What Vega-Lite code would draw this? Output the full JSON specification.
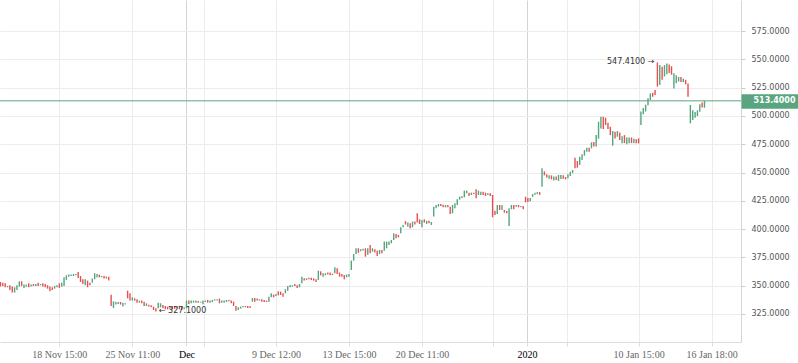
{
"$schema": "https://vega.github.io/schema/vega-lite/v6.json",
"width": 741, "height": 342, "autosize": {"type": "none"}, "padding": {"left": 0, "top": 0, "right": 57, "bottom": 21},
"background": "white",
"config": {"view": {"stroke": null}, "axis": {"labelOverlap": false}},
"resolve": {"axis": {"y": "independent"}},
"datasets": {"bars": [
{"i":0,"o":353.2,"c":349.1},{"i":1,"o":352.6,"c":349.7},{"i":2,"o":352.0,"c":348.5},{"i":3,"o":348.5,"c":349.7},{"i":4,"o":350.3,"c":346.1},
{"i":5,"o":349.1,"c":343.8},{"i":6,"o":343.8,"c":348.5},{"i":7,"o":346.1,"c":350.3},{"i":8,"o":349.1,"c":353.8},{"i":9,"o":353.8,"c":349.7},
{"i":10,"o":347.9,"c":350.9},{"i":11,"o":349.1,"c":350.9},{"i":12,"o":352.0,"c":348.5},{"i":13,"o":349.1,"c":350.9},{"i":14,"o":351.4,"c":349.7},
{"i":15,"o":349.7,"c":351.4},{"i":16,"o":352.6,"c":349.7},{"i":17,"o":350.3,"c":351.4},{"i":18,"o":352.0,"c":349.1},{"i":19,"o":351.4,"c":348.5},
{"i":20,"o":350.3,"c":347.3},{"i":21,"o":349.1,"c":344.9},{"i":22,"o":348.5,"c":346.1},{"i":23,"o":347.3,"c":349.7},{"i":24,"o":348.5,"c":350.3},
{"i":25,"o":352.0,"c":347.9},{"i":26,"o":349.1,"c":352.6},{"i":27,"o":349.7,"c":357.3},{"i":28,"o":355.0,"c":359.1},{"i":29,"o":357.9,"c":359.7},
{"i":30,"o":358.5,"c":359.7},{"i":31,"o":358.5,"c":360.3},{"i":32,"o":359.1,"c":360.3},{"i":33,"o":362.0,"c":356.7},{"i":34,"o":358.5,"c":353.2},
{"i":35,"o":355.6,"c":351.4},{"i":36,"o":350.3,"c":355.6},{"i":37,"o":354.4,"c":348.5},{"i":38,"o":352.6,"c":350.3},{"i":39,"o":352.6,"c":356.2},
{"i":40,"o":355.6,"c":360.9},{"i":41,"o":357.3,"c":360.3},{"i":42,"o":359.7,"c":357.3},{"i":43,"o":357.3,"c":358.5},{"i":44,"o":358.5,"c":356.2},
{"i":45,"o":357.9,"c":356.2},{"i":46,"o":357.9,"c":354.4},{"i":47,"o":342.0,"c":332.0},{"i":48,"o":330.2,"c":336.1},{"i":49,"o":333.2,"c":335.5},
{"i":50,"o":333.7,"c":335.5},{"i":51,"o":335.5,"c":333.2},{"i":52,"o":331.4,"c":334.9},{"i":53,"o":333.2,"c":334.3},{"i":54,"o":345.5,"c":338.7},
{"i":55,"o":343.2,"c":336.7},{"i":56,"o":336.7,"c":339.6},{"i":57,"o":338.7,"c":336.7},{"i":58,"o":337.9,"c":334.9},{"i":59,"o":334.9,"c":336.7},
{"i":60,"o":336.7,"c":334.3},{"i":61,"o":335.8,"c":332.0},{"i":62,"o":332.0,"c":334.3},{"i":63,"o":333.1,"c":331.4},{"i":64,"o":332.6,"c":330.8},
{"i":65,"o":331.4,"c":328.4},{"i":66,"o":329.9,"c":327.1},{"i":67,"o":329.9,"c":334.9},{"i":68,"o":330.8,"c":334.3},{"i":69,"o":332.8,"c":329.9},
{"i":70,"o":332.0,"c":329.0},{"i":71,"o":331.4,"c":329.0},{"i":72,"o":329.6,"c":331.4},{"i":73,"o":332.0,"c":329.0},{"i":74,"o":332.0,"c":329.6},
{"i":75,"o":329.9,"c":332.0},{"i":76,"o":332.0,"c":329.0},{"i":77,"o":331.4,"c":328.4},{"i":78,"o":329.0,"c":330.8},{"i":79,"o":329.9,"c":336.7},
{"i":80,"o":336.7,"c":333.7},{"i":81,"o":334.3,"c":336.7},{"i":82,"o":334.9,"c":336.7},{"i":83,"o":334.9,"c":336.7},{"i":84,"o":336.4,"c":334.9},
{"i":85,"o":334.9,"c":335.8},{"i":86,"o":333.4,"c":336.7},{"i":87,"o":335.5,"c":336.7},{"i":88,"o":337.3,"c":334.9},{"i":89,"o":334.9,"c":336.7},
{"i":90,"o":335.5,"c":337.3},{"i":91,"o":336.7,"c":337.9},{"i":92,"o":336.7,"c":337.9},{"i":93,"o":338.5,"c":334.3},{"i":94,"o":334.9,"c":336.7},
{"i":95,"o":334.9,"c":336.7},{"i":96,"o":335.5,"c":337.3},{"i":97,"o":337.3,"c":336.1},{"i":98,"o":336.7,"c":334.3},{"i":99,"o":335.8,"c":332.0},
{"i":100,"o":332.0,"c":327.8},{"i":101,"o":328.4,"c":330.8},{"i":102,"o":329.6,"c":331.4},{"i":103,"o":330.8,"c":332.0},{"i":104,"o":332.0,"c":330.8},
{"i":105,"o":332.0,"c":330.2},{"i":106,"o":331.7,"c":330.2},{"i":107,"o":335.8,"c":339.0},{"i":108,"o":339.0,"c":335.8},{"i":109,"o":338.5,"c":336.7},
{"i":110,"o":336.7,"c":337.9},{"i":111,"o":337.9,"c":335.8},{"i":112,"o":337.3,"c":335.5},{"i":113,"o":336.7,"c":335.5},{"i":114,"o":335.8,"c":340.2},
{"i":115,"o":339.6,"c":343.2},{"i":116,"o":342.0,"c":339.6},{"i":117,"o":340.8,"c":342.6},{"i":118,"o":344.9,"c":341.4},{"i":119,"o":344.6,"c":341.7},
{"i":120,"o":343.2,"c":340.2},{"i":121,"o":343.2,"c":346.7},{"i":122,"o":345.5,"c":349.7},{"i":123,"o":348.5,"c":350.5},{"i":124,"o":349.1,"c":350.3},
{"i":125,"o":351.4,"c":349.7},{"i":126,"o":350.3,"c":347.9},{"i":127,"o":348.5,"c":351.4},{"i":128,"o":352.0,"c":357.9},{"i":129,"o":356.4,"c":354.4},
{"i":130,"o":354.9,"c":356.4},{"i":131,"o":357.0,"c":355.6},{"i":132,"o":357.0,"c":355.0},{"i":133,"o":356.4,"c":354.4},{"i":134,"o":355.6,"c":353.2},
{"i":135,"o":355.0,"c":363.2},{"i":136,"o":362.6,"c":359.1},{"i":137,"o":357.9,"c":360.9},{"i":138,"o":359.1,"c":360.9},{"i":139,"o":361.5,"c":359.7},
{"i":140,"o":361.5,"c":359.1},{"i":141,"o":360.5,"c":359.3},{"i":142,"o":360.9,"c":366.2},{"i":143,"o":365.3,"c":360.3},{"i":144,"o":361.5,"c":357.9},
{"i":145,"o":360.3,"c":357.9},{"i":146,"o":359.4,"c":355.6},{"i":147,"o":357.3,"c":359.7},{"i":148,"o":357.9,"c":360.3},{"i":149,"o":363.8,"c":372.1},
{"i":150,"o":372.1,"c":378.0},{"i":151,"o":378.0,"c":383.0},{"i":152,"o":383.0,"c":379.0},{"i":153,"o":380.3,"c":382.1},{"i":154,"o":381.0,"c":382.5},
{"i":155,"o":383.0,"c":375.6},{"i":156,"o":377.2,"c":383.0},{"i":157,"o":386.0,"c":378.5},{"i":158,"o":380.0,"c":383.0},{"i":159,"o":382.1,"c":379.2},
{"i":160,"o":380.9,"c":376.2},{"i":161,"o":378.0,"c":381.5},{"i":162,"o":381.5,"c":378.5},{"i":163,"o":380.9,"c":388.9},{"i":164,"o":383.0,"c":388.9},
{"i":165,"o":386.0,"c":388.9},{"i":166,"o":387.4,"c":390.3},{"i":167,"o":390.3,"c":396.2},{"i":168,"o":395.6,"c":391.8},{"i":169,"o":394.8,"c":392.7},
{"i":170,"o":396.2,"c":401.5},{"i":171,"o":401.5,"c":403.6},{"i":172,"o":407.0,"c":404.0},{"i":173,"o":402.1,"c":405.7},{"i":174,"o":405.1,"c":400.7},
{"i":175,"o":401.5,"c":406.6},{"i":176,"o":406.6,"c":404.0},{"i":177,"o":413.9,"c":405.7},{"i":178,"o":408.6,"c":404.5},{"i":179,"o":401.5,"c":408.0},
{"i":180,"o":408.6,"c":405.7},{"i":181,"o":404.5,"c":407.4},{"i":182,"o":407.4,"c":405.1},{"i":183,"o":403.6,"c":406.2},{"i":184,"o":411.0,"c":419.8},
{"i":185,"o":418.4,"c":421.3},{"i":186,"o":419.8,"c":422.2},{"i":187,"o":422.2,"c":420.4},{"i":188,"o":421.6,"c":419.2},{"i":189,"o":419.2,"c":421.3},
{"i":190,"o":421.3,"c":419.2},{"i":191,"o":419.8,"c":413.3},{"i":192,"o":414.0,"c":421.3},{"i":193,"o":418.4,"c":422.8},{"i":194,"o":421.3,"c":426.3},
{"i":195,"o":426.0,"c":428.7},{"i":196,"o":427.5,"c":429.0},{"i":197,"o":428.1,"c":434.0},{"i":198,"o":431.6,"c":434.0},{"i":199,"o":432.2,"c":429.3},
{"i":200,"o":430.1,"c":432.2},{"i":201,"o":432.2,"c":431.0},{"i":202,"o":435.1,"c":427.2},{"i":203,"o":430.1,"c":434.0},{"i":204,"o":430.1,"c":433.1},
{"i":205,"o":433.1,"c":430.1},{"i":206,"o":432.2,"c":429.3},{"i":207,"o":430.1,"c":431.6},{"i":208,"o":431.6,"c":429.3},{"i":209,"o":430.1,"c":410.4},
{"i":210,"o":416.3,"c":412.5},{"i":211,"o":413.3,"c":421.3},{"i":212,"o":421.3,"c":416.9},{"i":213,"o":416.9,"c":421.3},{"i":214,"o":416.9,"c":414.5},
{"i":215,"o":416.0,"c":413.9},{"i":216,"o":402.7,"c":418.4},{"i":217,"o":417.5,"c":421.3},{"i":218,"o":421.3,"c":417.5},{"i":219,"o":419.8,"c":421.3},
{"i":220,"o":421.3,"c":419.2},{"i":221,"o":419.2,"c":420.4},{"i":222,"o":420.4,"c":417.5},{"i":223,"o":428.6,"c":423.6},{"i":224,"o":427.5,"c":424.0},
{"i":225,"o":424.5,"c":427.5},{"i":226,"o":428.5,"c":431.0},{"i":227,"o":430.3,"c":432.1},{"i":228,"o":430.9,"c":432.7},{"i":229,"o":432.7,"c":430.3},
{"i":230,"o":437.5,"c":453.7},{"i":231,"o":451.0,"c":447.5},{"i":232,"o":448.5,"c":445.5},{"i":233,"o":444.5,"c":447.5},{"i":234,"o":447.5,"c":444.0},
{"i":235,"o":443.0,"c":446.5},{"i":236,"o":446.5,"c":443.3},{"i":237,"o":442.5,"c":447.8},{"i":238,"o":444.2,"c":447.8},{"i":239,"o":447.5,"c":444.5},
{"i":240,"o":446.0,"c":444.0},{"i":241,"o":445.0,"c":448.4},{"i":242,"o":447.0,"c":450.7},{"i":243,"o":449.5,"c":452.2},{"i":244,"o":463.1,"c":453.7},
{"i":245,"o":460.2,"c":454.3},{"i":246,"o":456.6,"c":464.0},{"i":247,"o":461.0,"c":466.1},{"i":248,"o":464.9,"c":469.9},{"i":249,"o":468.4,"c":471.9},
{"i":250,"o":471.9,"c":468.4},{"i":251,"o":471.4,"c":476.7},{"i":252,"o":477.0,"c":473.0},{"i":253,"o":473.0,"c":483.1},{"i":254,"o":480.0,"c":494.9},
{"i":255,"o":489.0,"c":499.4},{"i":256,"o":499.4,"c":488.5},{"i":257,"o":498.5,"c":492.0},{"i":258,"o":494.0,"c":488.5},{"i":259,"o":490.5,"c":483.1},
{"i":260,"o":473.7,"c":486.7},{"i":261,"o":486.1,"c":480.2},{"i":262,"o":481.7,"c":486.7},{"i":263,"o":485.5,"c":478.7},{"i":264,"o":476.0,"c":482.0},
{"i":265,"o":483.1,"c":476.0},{"i":266,"o":475.0,"c":481.0},{"i":267,"o":476.0,"c":481.0},{"i":268,"o":481.0,"c":476.0},{"i":269,"o":475.8,"c":479.9},
{"i":270,"o":479.5,"c":476.0},{"i":271,"o":480.2,"c":475.8},{"i":272,"o":492.0,"c":504.0},{"i":273,"o":501.5,"c":507.0},{"i":274,"o":504.0,"c":510.0},
{"i":275,"o":509.5,"c":515.6},{"i":276,"o":514.1,"c":520.0},{"i":277,"o":520.6,"c":517.1},{"i":278,"o":523.0,"c":518.6},{"i":279,"o":547.41,"c":526.0},
{"i":280,"o":527.4,"c":545.0},{"i":281,"o":543.5,"c":532.0},{"i":282,"o":535.0,"c":545.0},{"i":283,"o":537.0,"c":546.5},{"i":284,"o":545.5,"c":538.0},
{"i":285,"o":544.0,"c":536.5},{"i":286,"o":524.4,"c":537.7},{"i":287,"o":529.0,"c":536.0},{"i":288,"o":530.5,"c":534.5},{"i":289,"o":534.5,"c":530.0},
{"i":290,"o":530.0,"c":533.0},{"i":291,"o":532.0,"c":528.0},{"i":292,"o":528.8,"c":517.1},{"i":293,"o":493.5,"c":509.7},{"i":294,"o":496.5,"c":505.0},
{"i":295,"o":498.5,"c":503.5},{"i":296,"o":500.0,"c":505.0},{"i":297,"o":503.8,"c":510.3},{"i":298,"o":512.0,"c":507.5},{"i":299,"o":507.3,"c":513.4}
]},
"layer": [
{
"data": {"name": "bars"},
"mark": {"type": "rule", "strokeWidth": 1.4},
"encoding": {
"x": {"field": "i", "type": "quantitative", "title": null,
"scale": {"domain": [-0.2, 314.5], "nice": false, "zero": false},
"axis": {"values": [25, 56, 79, 86.5, 117, 148, 179, 209.2, 223.6, 240.6, 271, 302],
"labelExpr": "datum.value==25?'18 Nov 15:00':datum.value==56?'25 Nov 11:00':datum.value==79?'Dec':datum.value==117?'9 Dec 12:00':datum.value==148?'13 Dec 15:00':datum.value==179?'20 Dec 11:00':datum.value==223.6?'2020':datum.value==271?'10 Jan 15:00':datum.value==302?'16 Jan 18:00':''",
"labelFont": "Liberation Serif", "labelFontSize": 10,
"labelColor": {"condition": {"test": "datum.value==79 || datum.value==223.6", "value": "#000000"}, "value": "#666666"},
"gridColor": {"condition": {"test": "datum.value==79 || datum.value==223.6", "value": "#d4d4d4"}, "value": "#ececec"},
"domainColor": "#dddddd", "tickColor": "#dddddd", "tickSize": 4, "labelPadding": 3,
"labelOverlap": false, "labelFlush": false}},
"y": {"field": "o", "type": "quantitative", "title": null,
"scale": {"domain": [300.1, 602.6], "nice": false, "zero": false},
"axis": {"orient": "right", "values": [325, 350, 375, 400, 425, 450, 475, 500, 525, 550, 575], "format": ".4f",
"labelFont": "DejaVu Sans", "labelFontSize": 8, "labelColor": "#555555",
"tickSize": 4, "tickColor": "#cccccc", "gridColor": "#ececec",
"domainColor": "#d6d6d6", "labelPadding": 6, "labelOverlap": false}},
"y2": {"field": "c"},
"color": {"condition": {"test": "datum.c >= datum.o", "value": "#53a57e"}, "value": "#e5504f"}
}
},
{
"data": {"values": [{"p": 513.4}]},
"mark": {"type": "rule", "color": "#5aa57f", "strokeWidth": 1},
"encoding": {"y": {"field": "p", "type": "quantitative", "title": null,
"axis": {"orient": "right", "values": [513.4], "format": ".4f", "grid": false, "domain": false,
"tickSize": 57, "tickWidth": 14.6, "tickColor": "#5aa57f",
"labelFont": "DejaVu Sans", "labelFontSize": 8, "labelFontWeight": "bold", "labelColor": "#ffffff",
"labelPadding": -45, "labelOverlap": false}}}
},
{
"data": {"values": [{"i": 279, "v": 547.41, "t": "547.4100 →"}]},
"mark": {"type": "text", "align": "right", "baseline": "middle", "dx": -3, "font": "DejaVu Sans", "fontSize": 8, "color": "#333333"},
"encoding": {"x": {"field": "i", "type": "quantitative", "title": null}, "y": {"field": "v", "type": "quantitative", "title": null, "axis": null}, "text": {"field": "t"}}
},
{
"data": {"values": [{"i": 66, "v": 327.1, "t": "← 327.1000"}]},
"mark": {"type": "text", "align": "left", "baseline": "middle", "dx": 3, "font": "DejaVu Sans", "fontSize": 8, "color": "#333333"},
"encoding": {"x": {"field": "i", "type": "quantitative", "title": null}, "y": {"field": "v", "type": "quantitative", "title": null, "axis": null}, "text": {"field": "t"}}
}
]
}
